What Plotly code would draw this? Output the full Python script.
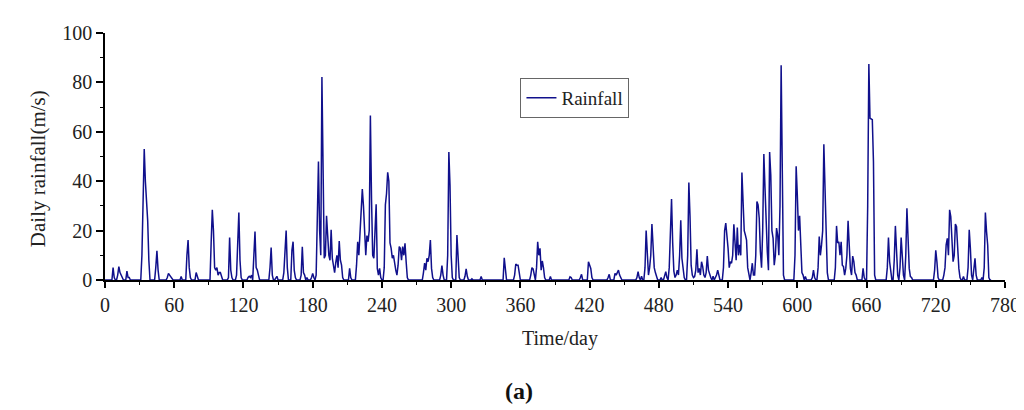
import plotly.graph_objects as go

# Rainy days (day index) and the daily rainfall; other days are dry (0)
rain_days = [
    7, 8, 11, 12, 13, 14, 15, 19, 20, 21,
    32, 33, 34, 35, 36, 37, 38, 44, 45, 46,
    54, 55, 56, 57, 58, 66, 71, 72, 73, 74, 79, 80,
    92, 93, 94, 95, 96, 97, 98, 99, 100, 101,
    107, 108, 109, 110, 114, 115, 116, 117, 118,
    124, 125, 126, 127, 129, 130, 131, 132, 133,
    143, 144, 145, 148, 149, 155, 156, 157, 158,
    162, 163, 164, 165, 170, 171, 172, 173, 175, 179, 180, 181, 183,
    184, 185, 186, 187, 188, 189, 190, 191, 192, 193, 194, 195, 196, 197,
    198, 199, 200, 201, 202, 203, 204, 205, 206, 212, 213,
    218, 219, 220, 221, 222, 223, 224, 225, 226, 227, 228, 229, 230, 231,
    232, 233, 234, 235, 236, 237, 238, 239,
    242, 243, 244, 245, 246, 247, 248, 249, 250, 251, 252, 253, 254, 255,
    256, 257, 258, 259, 260, 261, 262,
    276, 277, 278, 279, 280, 281, 282, 283, 284, 291, 292, 293,
    297, 298, 299, 300, 301, 305, 306, 307, 312, 313, 314, 318, 326,
    346, 347, 355, 356, 357, 358, 359, 369, 370, 371, 372,
    374, 375, 376, 377, 378, 379, 380, 381, 386,
    403, 404, 412, 413, 419, 420, 421, 422, 436, 437,
    442, 443, 444, 445, 446, 447, 452, 461, 462, 463, 465,
    468, 469, 470, 471, 472, 473, 474, 475, 476, 477, 478, 482, 485, 486, 487,
    489, 490, 491, 492, 493, 494, 495, 496, 497, 498, 499, 500, 501, 502,
    505, 506, 507, 508, 509, 510, 511, 512, 513, 514, 515, 516, 517, 518,
    519, 520, 521, 522, 523, 524, 525, 527, 529, 530, 531, 532,
    536, 537, 538, 539, 540, 541, 542, 543, 544, 545, 546, 547, 548, 549,
    550, 551, 552, 553, 554, 555, 556, 557, 558, 560, 561, 562, 563,
    564, 565, 566, 567, 568, 569, 570, 571, 572, 573, 574, 575, 576, 577,
    578, 579, 580, 581, 582, 583, 584, 585, 586, 587, 588,
    598, 599, 600, 601, 602, 603, 604, 605, 607, 613, 614, 615,
    618, 619, 620, 621, 622, 623, 624, 625, 626,
    633, 634, 635, 636, 637, 638, 639, 640, 641, 642, 643, 644, 645, 646,
    647, 648, 649, 650, 651, 657, 658,
    661, 662, 663, 664, 665, 666, 667,
    678, 679, 680, 681, 684, 685, 686, 687, 689, 690, 691, 692,
    694, 695, 696, 697, 698, 699, 704, 719, 720, 721, 722,
    727, 728, 729, 730, 731, 732, 733, 734, 735, 736, 737, 738, 739, 740, 741,
    744, 748, 749, 750, 751, 753, 754, 755, 760, 762, 763, 764, 765, 766,
]
rain_values = [
    5, 1, 2, 5.4, 3, 2, 1, 3.6, 1, 1,
    10, 33, 53, 40, 33, 24, 8, 5, 11.8, 4,
    1, 2.7, 2, 1.2, 0.5, 1.4, 10, 16.2, 5, 1, 3, 1,
    15, 28.4, 20, 5, 4, 5, 2, 3, 3, 1,
    1, 17.2, 4, 1, 2, 13, 27.3, 8, 1,
    1, 1.5, 1, 2, 10, 19.6, 5, 4, 2,
    5, 13.1, 2, 1, 1.5, 3, 12.8, 20, 5,
    12, 15.5, 4, 1, 2, 13.5, 3, 2, 1, 1, 2.7, 1, 2,
    35, 48, 20, 10, 82.2, 42, 8.8, 10, 26, 18, 10, 8, 20.3, 8.8,
    5, 3, 7, 10, 5, 15.8, 8, 6, 1, 4.7, 1,
    6, 15.5, 10, 20, 30, 36.8, 30, 18, 10, 18, 15.5, 20, 66.6, 32.4,
    10, 8.8, 20, 30.7, 4.7, 2, 4.7, 1,
    5, 30.4, 35, 43.6, 40, 15, 12.8, 8.8, 10, 6, 4, 2, 6, 13.5,
    12.8, 8, 13.5, 10, 14.9, 7.4, 1,
    3, 6.8, 4, 8.8, 7.4, 10, 16.2, 4.7, 1, 2, 5.8, 2,
    10, 51.8, 38.5, 10, 1, 18.2, 8.8, 1, 1.5, 4.5, 1.5, 0.5, 1.4,
    9, 3, 2, 6.4, 6, 6, 3, 2, 5, 4.5, 2,
    5, 15.5, 10, 12.8, 4, 7.7, 5, 1, 1.4,
    1.3, 1, 1, 2.3, 7.4, 6, 4.7, 1, 1, 2.3,
    2.7, 2, 3, 4, 2, 1, 0.3, 1, 3.4, 1, 1.5,
    5, 20, 8, 2, 5, 10, 22.7, 12, 5, 3, 1, 1, 2, 3.4, 1,
    5, 20, 32.8, 15, 3.6, 1, 2, 4, 2, 10, 24.2, 8.8, 3.6, 1,
    10, 39.5, 26, 6, 2, 1, 1.4, 4, 12.4, 3, 4.7, 2, 7.4, 5.4,
    2, 1, 3, 9.7, 4, 2, 1, 1.5, 1, 2, 4, 1.5,
    5, 20, 23, 18.2, 12.8, 5, 7.4, 6.8, 10, 22.6, 16.9, 8, 21.2, 10,
    14.2, 10, 43.5, 34.5, 20, 18.2, 16.2, 5, 2, 3, 6.8, 2, 2,
    10, 31.8, 30.4, 25, 11.5, 5, 20, 51, 37.2, 20, 11.5, 4, 51.8, 42.6,
    20, 17, 6, 10, 21, 18.2, 10, 30, 86.9, 44, 2,
    10, 46, 34.5, 20, 26, 11.5, 3, 2, 1.4, 1, 4, 1,
    5, 17.6, 10, 14.2, 20, 55, 41.2, 20, 3,
    5, 21.9, 15, 15.5, 10, 15.5, 6, 5.4, 2, 4.7, 10, 24, 14.2, 4.7,
    2, 9.7, 7.4, 3, 2, 4.7, 1,
    30, 87.4, 65.5, 65, 64.9, 48, 2,
    5, 17.2, 7.4, 2, 8, 21.9, 8, 2, 5, 17.2, 6, 2,
    10, 29, 15.5, 4.7, 1.4, 1, 0.3, 4, 12, 7.4, 1,
    2, 5, 14.2, 16.9, 10, 28.4, 25.7, 18.2, 7.4, 10, 22.7, 21.6, 10, 4.7, 1,
    1.4, 5, 20.3, 12.8, 2, 4, 8.8, 2, 1, 5, 27.3, 19.6, 14.2, 1,
]
last_day = 768

x_ticks = [0, 60, 120, 180, 240, 300, 360, 420, 480, 540, 600, 660, 720, 780]
y_ticks = [0, 20, 40, 60, 80, 100]

# full daily series: dry days read as 0
days = list(range(last_day + 1))
rain_map = dict(zip(rain_days, rain_values))
rainfall = [rain_map.get(d, 0) for d in days]

LINE = "#10108c"
FONT = "Liberation Serif"
TXT = "#222222"

fig = go.Figure()
fig.add_trace(go.Scatter(
    x=days, y=rainfall, mode="lines", name="Rainfall",
    line=dict(color=LINE, width=1.5),
))

L, R, T, B = 97, 25, 25, 138
W, H = 1024, 410
pw, ph = W - L - R, H - T - B

def px(xp):
    return (xp - L) / pw

def py(yp):
    return (H - B - yp) / ph

fig.update_layout(
    width=W, height=H,
    margin=dict(l=L, r=R, t=T, b=B),
    paper_bgcolor="white", plot_bgcolor="white",
    font=dict(family=FONT, color=TXT, size=20),
    showlegend=True,
    legend=dict(
        x=px(568), y=py(90), xanchor="center", yanchor="middle",
        bordercolor="#666666", borderwidth=1, bgcolor="white",
        font=dict(family=FONT, size=19, color=TXT),
        itemwidth=30, tracegroupgap=0,
    ),
    xaxis=dict(
        range=[0, 780], tickvals=x_ticks, ticktext=[str(v) for v in x_ticks],
        showgrid=False, zeroline=False,
        showline=True, linecolor="black", linewidth=1.5,
        ticks="outside", ticklen=6, tickwidth=1.5, tickcolor="black",
        minor=dict(ticks="outside", ticklen=3, tickwidth=1.2, tickcolor="black",
                   tick0=30, dtick=60),
        tickfont=dict(family=FONT, size=20, color=TXT),
    ),
    yaxis=dict(
        range=[0, 100], tickvals=y_ticks, ticktext=[str(v) for v in y_ticks],
        showgrid=False, zeroline=False,
        showline=True, linecolor="black", linewidth=1.5,
        ticks="outside", ticklen=7, tickwidth=1.5, tickcolor="black",
        minor=dict(ticks="outside", ticklen=3, tickwidth=1.2, tickcolor="black",
                   tick0=10, dtick=20),
        tickfont=dict(family=FONT, size=20, color=TXT),
    ),
    annotations=[
        dict(text="Daily rainfall(m/s)", textangle=-90, xref="paper", yref="paper",
             x=px(30), y=py(161), xanchor="center", yanchor="middle", showarrow=False,
             font=dict(family=FONT, size=21, color=TXT)),
        dict(text="Time/day", xref="paper", yref="paper",
             x=px(553), y=py(330), xanchor="center", yanchor="middle", showarrow=False,
             font=dict(family=FONT, size=20, color=TXT)),
        dict(text="<b>(a)</b>", xref="paper", yref="paper",
             x=px(512), y=py(383), xanchor="center", yanchor="middle", showarrow=False,
             font=dict(family=FONT, size=24, color="#111111")),
    ],
)

fig.write_html("out.html")
